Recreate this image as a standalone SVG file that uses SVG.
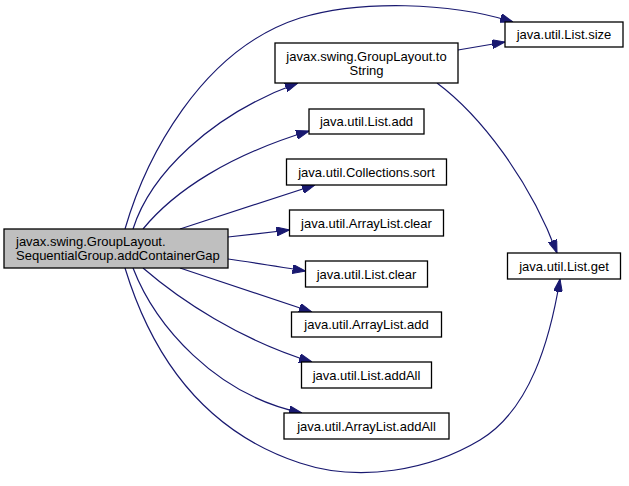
<svg xmlns="http://www.w3.org/2000/svg" width="629" height="486" viewBox="0 0 629 486">
<defs>
<style>
.n rect{fill:#ffffff;stroke:#000000;stroke-width:1.3}
.n.main rect{fill:#bfbfbf}
.n text{font-family:"Liberation Sans",Arial,sans-serif;font-size:13px;fill:#000000}
.c{text-anchor:middle}
.e path{fill:none;stroke:#191970;stroke-width:1.2;marker-end:url(#arr)}
</style>
<marker id="arr" markerUnits="userSpaceOnUse" markerWidth="13" markerHeight="9" viewBox="0 0 13 9" refX="13" refY="4.5" orient="auto">
<path d="M0,0 L13,4.5 L0,9 z" fill="#191970" stroke="#191970" stroke-width="1"/>
</marker>
</defs>
<rect width="629" height="486" fill="#ffffff"/>
<g class="e" id="edges">
<path d="M125,229 C145,160 200,50 300,18 C360,0 450,2 513,22"/>
<path d="M133,229 C150,175 210,115 298,83"/>
<path d="M143,229 C175,190 230,155 309,131"/>
<path d="M180,229 L315,185"/>
<path d="M228,237 L289.5,230"/>
<path d="M228,259 C250,262 280,267 305.5,271"/>
<path d="M180,268 L312,312"/>
<path d="M143,268 C180,300 240,340 312,362"/>
<path d="M133,268 C155,325 215,395 302,413"/>
<path d="M125,268 C150,350 200,430 300,463 C360,483 430,470 480,440 C530,410 550,340 560,279"/>
<path d="M458,50 L505,42"/>
<path d="M437,83 C480,115 530,180 557,253"/>
</g>
<g class="n main" id="node_main">
<rect x="4" y="229" width="224" height="39"/>
<text x="16" y="245.5">javax.swing.GroupLayout.</text>
<text x="16" y="259.5">SequentialGroup.addContainerGap</text>
</g>
<g class="n" id="node_toString">
<rect x="275" y="43" width="183" height="40"/>
<text class="c" x="366.5" y="60.5">javax.swing.GroupLayout.to</text>
<text class="c" x="366.5" y="74.5">String</text>
</g>
<g class="n" id="node_list_add">
<rect x="309" y="109" width="115" height="25"/>
<text class="c" x="366.5" y="126">java.util.List.add</text>
</g>
<g class="n" id="node_collections_sort">
<rect x="286.5" y="159" width="160" height="26"/>
<text class="c" x="366.5" y="176.5">java.util.Collections.sort</text>
</g>
<g class="n" id="node_arraylist_clear">
<rect x="289.5" y="210" width="154" height="26"/>
<text class="c" x="366.5" y="227.5">java.util.ArrayList.clear</text>
</g>
<g class="n" id="node_list_clear">
<rect x="305.5" y="261" width="122" height="26"/>
<text class="c" x="366.5" y="278.5">java.util.List.clear</text>
</g>
<g class="n" id="node_arraylist_add">
<rect x="291.5" y="312" width="150" height="25"/>
<text class="c" x="366.5" y="329">java.util.ArrayList.add</text>
</g>
<g class="n" id="node_list_addall">
<rect x="301.5" y="362" width="130" height="26"/>
<text class="c" x="366.5" y="379.5">java.util.List.addAll</text>
</g>
<g class="n" id="node_arraylist_addall">
<rect x="284" y="413" width="165" height="26"/>
<text class="c" x="366.5" y="430.5">java.util.ArrayList.addAll</text>
</g>
<g class="n" id="node_list_size">
<rect x="505" y="22" width="118" height="25"/>
<text class="c" x="564" y="39">java.util.List.size</text>
</g>
<g class="n" id="node_list_get">
<rect x="507.5" y="253" width="113" height="26"/>
<text class="c" x="564" y="270.5">java.util.List.get</text>
</g>
</svg>
